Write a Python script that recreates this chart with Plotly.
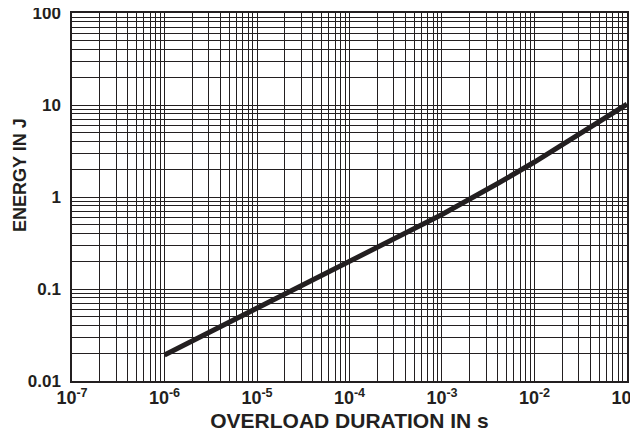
import plotly.graph_objects as go

duration_s = [1e-6, 1e-5, 1e-4, 1e-3, 4e-3, 1e-2, 1e-1]
energy_j = [0.0192, 0.062, 0.2, 0.645, 1.4, 2.4, 10.2]

x_tickvals = [1e-7, 1e-6, 1e-5, 1e-4, 1e-3, 1e-2, 1e-1]
x_ticktext = ["<b>10<sup>-7</sup></b>", "<b>10<sup>-6</sup></b>", "<b>10<sup>-5</sup></b>",
              "<b>10<sup>-4</sup></b>", "<b>10<sup>-3</sup></b>", "<b>10<sup>-2</sup></b>",
              "<b>10<sup>-1</sup></b>"]
y_tickvals = [0.01, 0.1, 1, 10, 100]
y_ticktext = ["<b>0.01</b>", "<b>0.1</b>", "<b>1</b>", "<b>10</b>", "<b>100</b>"]
x_title = "<b>OVERLOAD DURATION IN s</b>"
y_title = "<b>ENERGY IN J</b>"

grid_color = "#231f20"

fig = go.Figure()
fig.add_trace(go.Scatter(x=duration_s, y=energy_j, mode="lines",
                         line=dict(color="#231f20", width=5),
                         showlegend=False, cliponaxis=False))

# page body has an 8px default margin, so the figure is shifted by 8px
fig.update_layout(
    width=630, height=428,
    margin=dict(l=64, r=11, t=5, b=55),
    paper_bgcolor="white", plot_bgcolor="white",
    font=dict(family="Liberation Sans, Arial, sans-serif", color="#231f20"),
    xaxis=dict(
        type="log", range=[-7, -0.9999],
        tickvals=x_tickvals, ticktext=x_ticktext,
        tickfont=dict(size=18), ticklabeloverflow="allow",
        showgrid=True, gridcolor=grid_color, gridwidth=1.3,
        minor=dict(dtick="D1", showgrid=True, gridcolor=grid_color, gridwidth=1.3),
        showline=True, linecolor=grid_color, linewidth=1.5, mirror=True,
        ticks="", zeroline=False, automargin=False,
        title=dict(text=x_title, font=dict(size=21), standoff=6),
    ),
    yaxis=dict(
        type="log", range=[-2, 2],
        tickvals=y_tickvals, ticktext=y_ticktext,
        tickfont=dict(size=17), ticklabelstandoff=6, ticklabeloverflow="allow",
        showgrid=True, gridcolor=grid_color, gridwidth=1.3,
        minor=dict(dtick="D1", showgrid=True, gridcolor=grid_color, gridwidth=1.3),
        showline=True, linecolor=grid_color, linewidth=1.5, mirror=True,
        ticks="", zeroline=False, automargin=False,
    ),
    annotations=[dict(text=y_title, textangle=-90, xref="paper", yref="paper",
                      x=-0.0937, y=0.56, xanchor="center", yanchor="middle",
                      showarrow=False, font=dict(size=18))],
)

fig.write_html("out.html")
